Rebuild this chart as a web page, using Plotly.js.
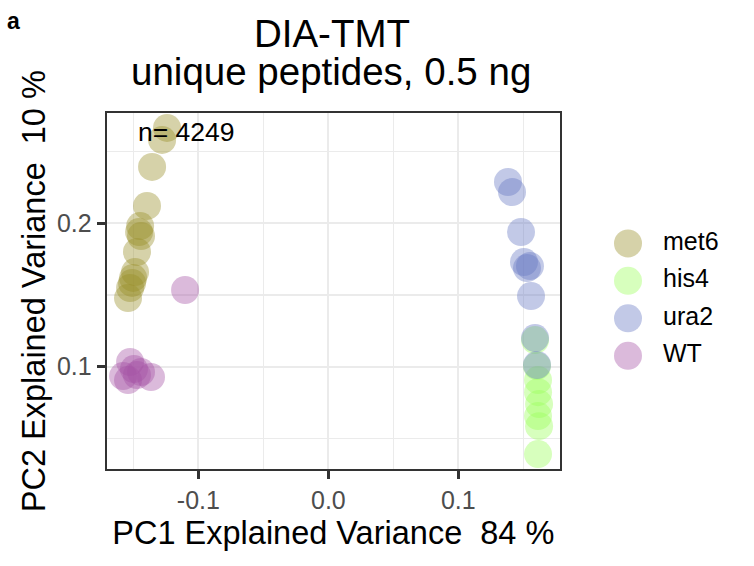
<!DOCTYPE html>
<html>
<head>
<meta charset="utf-8">
<script src="https://cdn.plot.ly/plotly-3.0.1.min.js"></script>
<style>html,body{margin:0;padding:0;background:#fff;}#chart{width:754px;height:566px;}</style>
</head>
<body>
<div id="chart"></div>
<script>
// ---- data ----
const categories = ["met6", "his4", "ura2", "WT"];
const colors = ["#988e28", "#9cff5a", "#6678c4", "#a652a6"];

const met6X = [-0.1241, -0.1279, -0.1356, -0.1395, -0.1448, -0.1456, -0.1441, -0.1472, -0.1487, -0.1502, -0.1510, -0.1525, -0.1541];
const met6Y = [0.2665, 0.2581, 0.2393, 0.2121, 0.1981, 0.1939, 0.1911, 0.1800, 0.1660, 0.1619, 0.1584, 0.1549, 0.1479];

const his4X = [0.1590, 0.1605, 0.1613, 0.1613, 0.1621, 0.1613, 0.1621, 0.1613];
const his4Y = [0.1186, 0.1005, 0.0907, 0.0823, 0.0740, 0.0656, 0.0586, 0.0391];

const ura2X = [0.1382, 0.1413, 0.1482, 0.1505, 0.1528, 0.1551, 0.1559, 0.1590, 0.1605];
const ura2Y = [0.2288, 0.2218, 0.1939, 0.1730, 0.1688, 0.1702, 0.1493, 0.1200, 0.1012];

const wtX = [-0.1102, -0.1525, -0.1541, -0.1441, -0.1364, -0.1579, -0.1495, -0.1472];
const wtY = [0.1535, 0.1033, 0.0907, 0.0963, 0.0928, 0.0935, 0.0984, 0.0942];

const xTickVals = [-0.1, 0.0, 0.1];
const xTickText = ["-0.1", "0.0", "0.1"];
const yTickVals = [0.1, 0.2];
const yTickText = ["0.1", "0.2"];

const nLabel = "n= 4249";
const titleLine1 = "DIA-TMT";
const titleLine2 = "unique peptides, 0.5 ng";
const xTitle = "PC1 Explained Variance  84 %";
const yTitle = "PC2 Explained Variance  10 %";
const panelLabel = "a";

// ---- build ----
const FONT = "Liberation Sans, Arial, sans-serif";
const seriesX = [met6X, his4X, ura2X, wtX];
const seriesY = [met6Y, his4Y, ura2Y, wtY];
const MS = 28, OP = 0.4;

const traces = categories.map((c, i) => ({
  type: "scatter", mode: "markers", name: c,
  x: seriesX[i], y: seriesY[i],
  marker: {size: MS, color: colors[i], opacity: OP, line: {width: 0}},
  showlegend: false, hoverinfo: "x+y+name", cliponaxis: true
}));

// custom legend on a hidden second axis pair (right of the panel)
traces.push({
  type: "scatter", mode: "markers", xaxis: "x2", yaxis: "y2",
  x: categories.map(() => 0), y: categories,
  marker: {size: MS, color: colors, opacity: OP, line: {width: 0}},
  showlegend: false, hoverinfo: "skip", cliponaxis: false
});
traces.push({
  type: "scatter", mode: "text", xaxis: "x2", yaxis: "y2",
  x: categories.map(() => 35), y: categories,
  text: categories, textposition: "middle right",
  textfont: {family: FONT, size: 25, color: "#000"},
  showlegend: false, hoverinfo: "skip", cliponaxis: false
});

const gridC = "#ebebeb";
const layout = {
  width: 754, height: 566,
  margin: {l: 0, r: 0, t: 0, b: 0},
  paper_bgcolor: "#fff", plot_bgcolor: "rgba(0,0,0,0)",
  font: {family: FONT},
  showlegend: false,
  title: {
    text: titleLine1, font: {family: FONT, size: 38.5, color: "#000"},
    x: 332 / 754, xanchor: "center", yref: "container", y: 1 - 33.5 / 566, yanchor: "middle"
  },
  xaxis: {
    domain: [106.7 / 754, 560 / 754],
    range: [-0.1705, 0.1782],
    tickvals: xTickVals, ticktext: xTickText,
    ticks: "outside", ticklen: 8, tickwidth: 2.5, tickcolor: "#333",
    tickfont: {family: FONT, size: 25, color: "#4d4d4d"},
    showgrid: true, gridcolor: gridC, gridwidth: 2.2,
    minor: {dtick: 0.05, tick0: 0, showgrid: true, gridcolor: gridC, gridwidth: 1.1, ticks: ""},
    zeroline: false,
    showline: true, mirror: true, linecolor: "#333", linewidth: 2,
    title: {text: xTitle, font: {family: FONT, size: 32.5, color: "#000"}, standoff: 8},
    automargin: false, fixedrange: true
  },
  yaxis: {
    domain: [1 - 469.3 / 566, 1 - 113 / 566],
    range: [0.0285, 0.2769],
    tickvals: yTickVals, ticktext: yTickText,
    ticks: "outside", ticklen: 8, tickwidth: 2.5, tickcolor: "#333",
    tickfont: {family: FONT, size: 25, color: "#4d4d4d"},
    showgrid: true, gridcolor: gridC, gridwidth: 2.2,
    minor: {dtick: 0.05, tick0: 0, showgrid: true, gridcolor: gridC, gridwidth: 1.1, ticks: ""},
    zeroline: false,
    showline: true, mirror: true, linecolor: "#333", linewidth: 2,
    title: {text: yTitle, font: {family: FONT, size: 32.5, color: "#000"}, standoff: 2},
    automargin: false, fixedrange: true
  },
  xaxis2: {domain: [580 / 754, 1], range: [-48, 126], visible: false, fixedrange: true, anchor: "y2"},
  yaxis2: {domain: [0, 1], type: "category", categoryorder: "array", categoryarray: categories,
           range: [8.607, -6.493], visible: false, fixedrange: true, anchor: "x2"},
  annotations: [
    {text: titleLine2, xref: "paper", yref: "paper", x: 331 / 754, y: 1 - 71 / 566,
     xanchor: "center", yanchor: "middle", showarrow: false,
     font: {family: FONT, size: 38.5, color: "#000"}},
    {text: nLabel, xref: "x", yref: "y", x: -0.1478, y: 0.2637,
     xanchor: "left", yanchor: "middle", showarrow: false,
     font: {family: FONT, size: 26.5, color: "#000"}},
    {text: "<b>" + panelLabel + "</b>", xref: "paper", yref: "paper", x: 5 / 754, y: 1 - 21 / 566,
     xanchor: "left", yanchor: "middle", showarrow: false,
     font: {family: FONT, size: 23, color: "#000"}}
  ]
};

Plotly.newPlot("chart", traces, layout, {displayModeBar: false, staticPlot: true});
</script>
</body>
</html>
